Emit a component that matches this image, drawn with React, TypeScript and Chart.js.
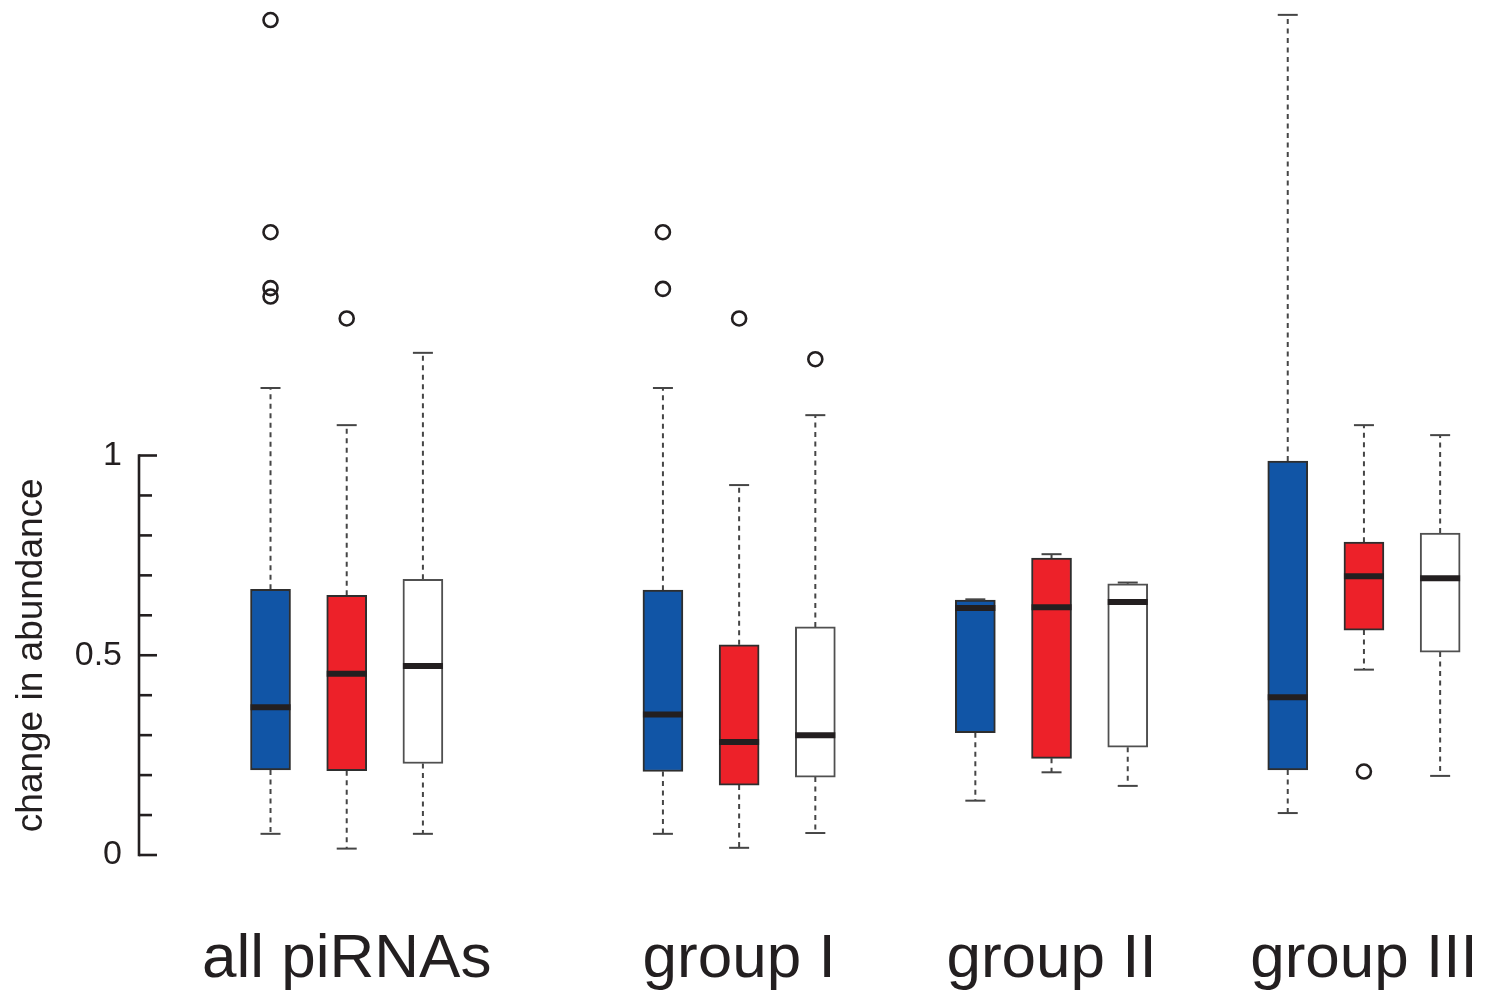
import React, { useEffect, useRef } from 'react';
import { Chart, registerables } from 'chart.js';

Chart.register(...registerables);

const FONT = "'Liberation Sans', Arial, Helvetica, sans-serif";
const INK = '#231f20';

// Categories
const groups = ['all piRNAs', 'group I', 'group II', 'group III'];
const groupX = [1, 6.15, 10.25, 14.35];
const seriesOffset = [-1, 0, 1];

// Y ticks
const yTicks = [0, 0.1, 0.2, 0.3, 0.4, 0.5, 0.6, 0.7, 0.8, 0.9, 1];
const yLabeled = [0, 0.5, 1];
const yTitle = 'change in abundance';

// Series 1 (blue)
const blueMin = [0.053, 0.053, 0.136, 0.105];
const blueQ1 = [0.213, 0.209, 0.306, 0.213];
const blueMedian = [0.37, 0.352, 0.618, 0.395];
const blueQ3 = [0.665, 0.663, 0.638, 0.986];
const blueMax = [1.169, 1.169, 0.64, 2.103];
const blueOutliers = [[2.09, 1.559, 1.419, 1.398], [1.559, 1.417], [], []];

// Series 2 (red)
const redMin = [0.016, 0.018, 0.207, 0.464];
const redQ1 = [0.211, 0.175, 0.242, 0.563];
const redMedian = [0.454, 0.283, 0.62, 0.698];
const redQ3 = [0.65, 0.526, 0.743, 0.783];
const redMax = [1.076, 0.926, 0.753, 1.076];
const redOutliers = [[1.343], [1.343], [], [0.209]];

// Series 3 (white)
const whiteMin = [0.053, 0.055, 0.173, 0.198];
const whiteQ1 = [0.229, 0.195, 0.27, 0.508];
const whiteMedian = [0.473, 0.3, 0.633, 0.693];
const whiteQ3 = [0.69, 0.571, 0.679, 0.806];
const whiteMax = [1.257, 1.101, 0.682, 1.051];
const whiteOutliers = [[], [1.241], [], []];

const seriesFill = ['#1155a6', '#ed2129', '#ffffff'];
const seriesBorder = ['#2e2e2e', '#2e2e2e', '#505050'];

const series = [
  { min: blueMin, q1: blueQ1, med: blueMedian, q3: blueQ3, max: blueMax, out: blueOutliers },
  { min: redMin, q1: redQ1, med: redMedian, q3: redQ3, max: redMax, out: redOutliers },
  { min: whiteMin, q1: whiteQ1, med: whiteMedian, q3: whiteQ3, max: whiteMax, out: whiteOutliers },
];

type Box = { x: number; si: number; min: number; q1: number; med: number; q3: number; max: number; out: number[] };

function buildBoxes(): Box[] {
  const boxes: Box[] = [];
  groups.forEach((_g, gi) => {
    series.forEach((s, si) => {
      boxes.push({
        x: groupX[gi] + seriesOffset[si],
        si,
        min: s.min[gi],
        q1: s.q1[gi],
        med: s.med[gi],
        q3: s.q3[gi],
        max: s.max[gi],
        out: s.out[gi],
      });
    });
  });
  return boxes;
}

const axisPlugin = {
  id: 'axisDecor',
  afterDraw(chart: any) {
    const { ctx } = chart;
    const y = chart.scales.y;
    const x0 = chart.chartArea.left;
    ctx.save();
    ctx.strokeStyle = INK;
    ctx.lineWidth = 2.6;
    ctx.beginPath();
    ctx.moveTo(x0, y.getPixelForValue(0) + 1.3);
    ctx.lineTo(x0, y.getPixelForValue(1) - 1.3);
    ctx.stroke();
    yTicks.forEach((v) => {
      const py = y.getPixelForValue(v);
      const len = yLabeled.includes(v) ? 18 : 13;
      ctx.beginPath();
      ctx.moveTo(x0, py);
      ctx.lineTo(x0 + len, py);
      ctx.stroke();
    });
    ctx.fillStyle = INK;
    ctx.font = `37px ${FONT}`;
    ctx.textAlign = 'center';
    ctx.textBaseline = 'alphabetic';
    ctx.translate(42, (y.getPixelForValue(0) + y.getPixelForValue(1)) / 2);
    ctx.rotate(-Math.PI / 2);
    ctx.fillText(yTitle, 0, 0);
    ctx.restore();
  },
};

export default function App() {
  const ref = useRef<HTMLCanvasElement | null>(null);

  useEffect(() => {
    if (!ref.current) return;
    const boxes = buildBoxes();

    const chart = new Chart(ref.current, {
      type: 'bar',
      data: {
        datasets: [
          {
            type: 'line',
            label: 'whiskers',
            data: boxes.flatMap((b) => [
              { x: b.x, y: b.q3 },
              { x: b.x, y: b.max },
              { x: b.x, y: null },
              { x: b.x, y: b.q1 },
              { x: b.x, y: b.min },
              { x: b.x, y: null },
            ]),
            borderColor: '#454545',
            borderWidth: 2,
            borderDash: [5, 4.5],
            pointRadius: 0,
            spanGaps: false,
            order: 5,
          } as any,
          {
            type: 'bar',
            label: 'boxes',
            data: boxes.map((b) => ({ x: b.x, y: [b.q1, b.q3] })),
            backgroundColor: boxes.map((b) => seriesFill[b.si]),
            borderColor: boxes.map((b) => seriesBorder[b.si]),
            borderWidth: 2,
            borderSkipped: false,
            barThickness: 40,
            order: 4,
          } as any,
          {
            type: 'line',
            label: 'caps',
            showLine: false,
            data: boxes.flatMap((b) => [
              { x: b.x, y: b.min },
              { x: b.x, y: b.max },
            ]),
            pointStyle: 'line',
            pointRadius: 10,
            pointBorderWidth: 2,
            pointBorderColor: '#454545',
            order: 3,
          } as any,
          {
            type: 'line',
            label: 'medians',
            showLine: false,
            data: boxes.map((b) => ({ x: b.x, y: b.med })),
            pointStyle: 'line',
            pointRadius: 20,
            pointBorderWidth: 6,
            pointBorderColor: INK,
            order: 2,
          } as any,
          {
            type: 'line',
            label: 'outliers',
            showLine: false,
            data: boxes.flatMap((b) => b.out.map((v) => ({ x: b.x, y: v }))),
            pointStyle: 'circle',
            pointRadius: 7,
            pointBorderWidth: 2.6,
            pointBorderColor: INK,
            pointBackgroundColor: 'rgba(0,0,0,0)',
            order: 1,
          } as any,
        ],
      },
      options: {
        responsive: false,
        animation: false,
        events: [],
        layout: { autoPadding: false, padding: { top: 5, left: 0, right: 0, bottom: 0 } },
        plugins: {
          legend: { display: false },
          tooltip: { enabled: false },
          title: { display: false },
        },
        scales: {
          x: {
            type: 'linear',
            min: -1.726,
            max: 15.965,
            offset: false,
            grid: { display: false, drawTicks: false },
            border: { display: false },
            afterBuildTicks: (s: any) => {
              s.ticks = groupX.map((v) => ({ value: v }));
            },
            afterFit: (s: any) => {
              s.height = 139;
              s.paddingLeft = 0;
              s.paddingRight = 0;
            },
            ticks: {
              autoSkip: false,
              maxRotation: 0,
              minRotation: 0,
              padding: 68,
              color: INK,
              font: { family: FONT, size: 62 },
              callback: (_v: any, i: number) => groups[i],
            },
          },
          y: {
            type: 'linear',
            min: 0,
            max: 2.1277,
            grid: { display: false, drawTicks: false },
            border: { display: false },
            afterBuildTicks: (s: any) => {
              s.ticks = yTicks.map((v) => ({ value: v }));
            },
            afterFit: (s: any) => {
              s.width = 139;
              s.paddingTop = 0;
              s.paddingBottom = 0;
            },
            ticks: {
              autoSkip: false,
              padding: 17,
              color: INK,
              font: { family: FONT, size: 34 },
              callback: (v: any) => (yLabeled.includes(v) ? String(v) : ''),
            },
          },
        },
      } as any,
      plugins: [axisPlugin],
    });

    return () => chart.destroy();
  }, []);

  return (
    <div style={{ position: 'absolute', left: 0, top: 0, width: 1487, height: 994, background: '#ffffff' }}>
      <canvas ref={ref} width={1487} height={994} style={{ display: 'block' }} />
    </div>
  );
}
